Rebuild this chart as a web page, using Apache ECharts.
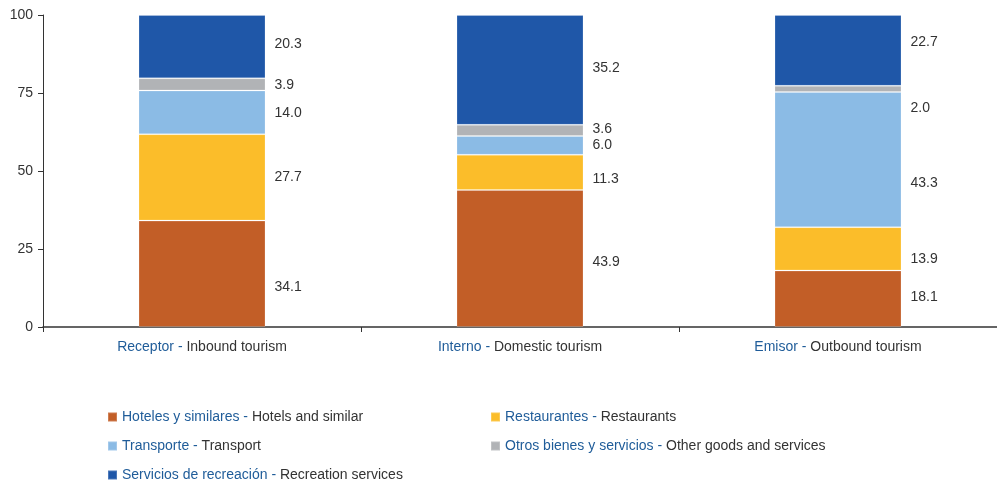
<!DOCTYPE html>
<html>
<head>
<meta charset="utf-8">
<script src="https://cdn.jsdelivr.net/npm/echarts@6/dist/echarts.min.js"></script>
<style>
  html, body { margin: 0; padding: 0; background: #fff; }
  #main { width: 997px; height: 480px; }
</style>
</head>
<body>
<div id="main"></div>
<script>
// categories (Spanish / English)
var catEs = ['Receptor', 'Interno', 'Emisor'];
var catEn = ['Inbound tourism', 'Domestic tourism', 'Outbound tourism'];

// series names
var serEs = ['Hoteles y similares', 'Restaurantes', 'Transporte', 'Otros bienes y servicios', 'Servicios de recreación'];
var serEn = ['Hotels and similar', 'Restaurants', 'Transport', 'Other goods and services', 'Recreation services'];

// values (%)
var hoteles = [34.1, 43.9, 18.1];
var restaurantes = [27.7, 11.3, 13.9];
var transporte = [14.0, 6.0, 43.3];
var otros = [3.9, 3.6, 2.0];
var recreacion = [20.3, 35.2, 22.7];

var yTicks = [0, 25, 50, 75, 100];

var colors = ['#c25e27', '#fbbd2a', '#8bbbe5', '#b1b3b6', '#1f57a8'];
var font = 'Liberation Sans, Arial, sans-serif';
// small vertical nudges so labels sit like the original
var labelNudge = [
  [13, 4, -2],
  [0, 7, 10],
  [1, 0, 24],
  [1, -1, 19],
  [-3, -2, -8]
];

var chart = echarts.init(document.getElementById('main'));

var allValues = [hoteles, restaurantes, transporte, otros, recreacion];

var series = allValues.map(function (vals, i) {
  return {
    name: serEs[i] + ' - ' + serEn[i],
    type: 'bar',
    stack: 'total',
    barWidth: 127,
    itemStyle: { color: colors[i], borderColor: 'rgba(255,255,255,0.2)', borderWidth: 1 },
    label: {
      show: true,
      position: 'right',
      distance: 9,
      color: '#333',
      fontSize: 14,
      fontFamily: font,
      formatter: function (p) { return p.value.toFixed(1); }
    },
    data: vals.map(function (v, j) {
      return { value: v, label: { offset: [0, labelNudge[i][j]] } };
    })
  };
});

var richText = {
  es: { color: '#1f5c99', fontSize: 14, fontFamily: font },
  en: { color: '#333', fontSize: 14, fontFamily: font }
};
function legendFmt(name) {
  var parts = name.split(' - ');
  return '{es|' + parts[0] + ' - }{en|' + parts[1] + '}';
}
function legendBox(names, left) {
  return {
    orient: 'vertical',
    left: left,
    top: 405,
    height: 120,
    itemWidth: 9,
    itemHeight: 9,
    itemGap: 15,
    icon: 'rect',
    data: names,
    formatter: legendFmt,
    textStyle: { rich: richText }
  };
}

var option = {
  animation: false,
  grid: { left: 43, right: -4, top: 15, bottom: 153 },
  legend: [
    legendBox([series[0].name, series[2].name, series[4].name], 102),
    legendBox([series[1].name, series[3].name], 485)
  ],
  xAxis: {
    type: 'category',
    data: catEs.map(function (c, i) { return c + '|' + catEn[i]; }),
    axisLine: { lineStyle: { color: '#333', width: 1.5 } },
    axisTick: { show: true, length: 5, lineStyle: { color: '#333' } },
    axisLabel: {
      margin: 13,
      formatter: function (v) {
        var p = v.split('|');
        return '{es|' + p[0] + ' - }{en|' + p[1] + '}';
      },
      rich: richText
    }
  },
  yAxis: {
    type: 'value',
    min: yTicks[0],
    max: yTicks[yTicks.length - 1],
    interval: 25,
    axisLine: { show: true, lineStyle: { color: '#333' } },
    axisTick: { show: true, length: 5, lineStyle: { color: '#333' } },
    axisLabel: { color: '#333', fontSize: 14, margin: 10, fontFamily: font },
    splitLine: { show: false }
  },
  series: series
};

chart.setOption(option);
</script>
</body>
</html>
